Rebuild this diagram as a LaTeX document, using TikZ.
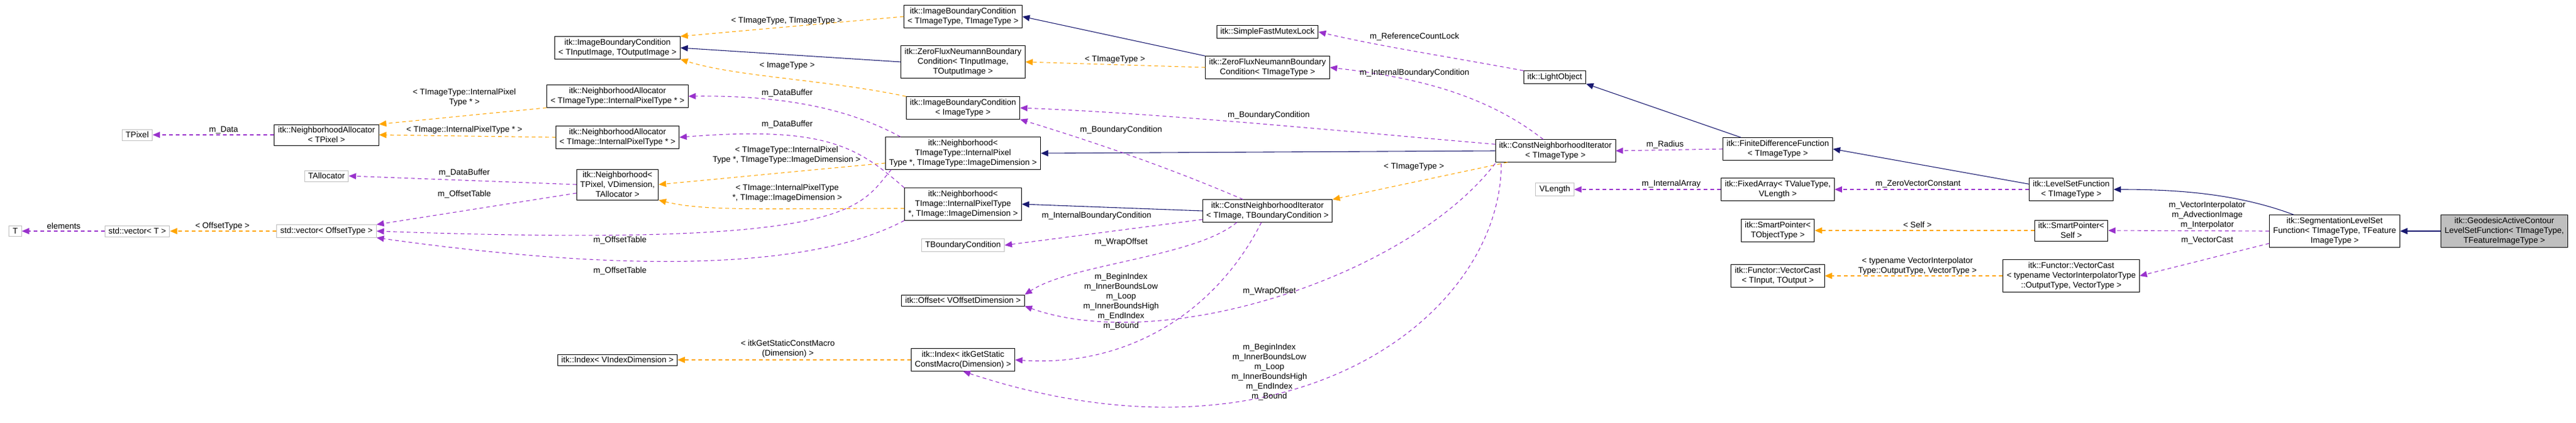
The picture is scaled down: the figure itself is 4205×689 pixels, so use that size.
\documentclass[tikz,border=0pt]{standalone}
\usepackage{fontspec}
\setmainfont{Liberation Sans}
\usetikzlibrary{arrows.meta}
\definecolor{inhblue}{RGB}{25,25,112}
\definecolor{usepurple}{RGB}{153,50,204}
\definecolor{tplorange}{RGB}{255,165,0}
\definecolor{extgray}{RGB}{191,191,191}
\tikzset{
  cls/.style={draw=black, line width=0.9pt, fill=white, align=center, inner xsep=6pt, inner ysep=4pt, font=\fontsize{13.5}{16}\selectfont},
  ext/.style={cls, draw=extgray},
  lbl/.style={align=center, inner sep=0pt, font=\fontsize{13.5}{16}\selectfont},
  inh/.style={draw=inhblue, line width=1.1pt, -{Triangle[length=12pt,width=10pt]}},
  use/.style={draw=usepurple, line width=1.1pt, dash pattern=on 6pt off 5pt, -{Triangle[length=12pt,width=10pt,fill=usepurple]}},
  tpl/.style={draw=tplorange, line width=1.1pt, dash pattern=on 6pt off 5pt, -{Triangle[length=12pt,width=10pt,fill=tplorange]}}
}
\begin{document}
\begin{tikzpicture}[x=1pt,y=-1pt]
\useasboundingbox (0,0) rectangle (4205,689);

% classes
\node[ext] (tT) at (25,377) {T};
\node[ext] (vecT) at (224,377) {std::vector< T >};
\node[ext] (vecOff) at (533,377) {std::vector< OffsetType >};
\node[ext] (tPixel) at (224,220) {TPixel};
\node[cls] (naPix) at (533,220) {itk::NeighborhoodAllocator\\< TPixel >};
\node[ext] (tAlloc) at (533,287) {TAllocator};
\node[cls] (ibcIO) at (1008,78) {itk::ImageBoundaryCondition\\< TInputImage, TOutputImage >};
\node[cls] (naTT) at (1008,157) {itk::NeighborhoodAllocator\\< TImageType::InternalPixelType * >};
\node[cls] (naTI) at (1008,224) {itk::NeighborhoodAllocator\\< TImage::InternalPixelType * >};
\node[cls] (nbPix) at (1008,301) {itk::Neighborhood<\\TPixel, VDimension,\\TAllocator >};
\node[cls] (idxV) at (1008,587) {itk::Index< VIndexDimension >};
\node[cls] (ibcTT) at (1572,27) {itk::ImageBoundaryCondition\\< TImageType, TImageType >};
\node[cls] (zfIO) at (1572,101) {itk::ZeroFluxNeumannBoundary\\Condition< TInputImage,\\TOutputImage >};
\node[cls] (ibcI) at (1572,176) {itk::ImageBoundaryCondition\\< ImageType >};
\node[cls] (nbTT) at (1572,250) {itk::Neighborhood<\\TImageType::InternalPixel\\Type *, TImageType::ImageDimension >};
\node[cls] (nbTI) at (1572,333) {itk::Neighborhood<\\TImage::InternalPixelType\\*, TImage::ImageDimension >};
\node[ext] (tBC) at (1572,400) {TBoundaryCondition};
\node[cls] (offV) at (1572,490) {itk::Offset< VOffsetDimension >};
\node[cls] (idxS) at (1572,587) {itk::Index< itkGetStatic\\ConstMacro(Dimension) >};
\node[cls] (mutex) at (2069,52) {itk::SimpleFastMutexLock};
\node[cls] (zfT) at (2069,110) {itk::ZeroFluxNeumannBoundary\\Condition< TImageType >};
\node[cls] (cniTB) at (2069,344) {itk::ConstNeighborhoodIterator\\< TImage, TBoundaryCondition >};
\node[cls] (light) at (2538,126) {itk::LightObject};
\node[cls] (cniT) at (2539,246) {itk::ConstNeighborhoodIterator\\< TImageType >};
\node[ext] (vLen) at (2538,309) {VLength};
\node[cls] (fdf) at (2902,243) {itk::FiniteDifferenceFunction\\< TImageType >};
\node[cls] (fixArr) at (2902,309) {itk::FixedArray< TValueType,\\VLength >};
\node[cls] (spObj) at (2902,376) {itk::SmartPointer<\\TObjectType >};
\node[cls] (vcIO) at (2902,450) {itk::Functor::VectorCast\\< TInput, TOutput >};
\node[cls] (lsf) at (3381,309) {itk::LevelSetFunction\\< TImageType >};
\node[cls] (spSelf) at (3381,376) {itk::SmartPointer<\\Self >};
\node[cls] (vcTN) at (3381,450) {itk::Functor::VectorCast\\< typename VectorInterpolatorType\\::OutputType, VectorType >};
\node[cls] (segF) at (3811,377) {itk::SegmentationLevelSet\\Function< TImageType, TFeature\\ImageType >};
\node[cls, fill=extgray] (gac) at (4088,377) {itk::GeodesicActiveContour\\LevelSetFunction< TImageType,\\TFeatureImageType >};

% inheritance
\draw[inh] (gac) -- (segF);
\draw[inh] (segF.north west) ++(40,0) .. controls (3650,315) and (3550,309) .. (lsf.east);
\draw[inh] (lsf.north west) ++(0,10) -- (fdf.east);
\draw[inh] (fdf.north west) ++(30,0) -- (light.south east);
\draw[inh] (cniT.west) -- (nbTT.east);
\draw[inh] (cniTB.west) -- (nbTI.east);
\draw[inh] (zfT.north west) -- (ibcTT.east);
\draw[inh] (zfIO.west) -- (ibcIO.east);

% templates
\draw[tpl] (spSelf) -- (spObj);
\draw[tpl] (vcTN) -- (vcIO);
\draw[tpl] (cniT.south west) ++(20,0) -- (cniTB.north east);
\draw[tpl] (zfT.west) -- (zfIO.east);
\draw[tpl] (ibcTT.west) -- (ibcIO.north east);
\draw[tpl] (ibcI.north west) .. controls (1350,130) and (1200,125) .. (ibcIO.south east);
\draw[tpl] (nbTT.west) ++(0,16) -- (nbPix.east);
\draw[tpl] (nbTI.west) ++(0,7) .. controls (1250,340) and (1150,345) .. (nbPix.south east);
\draw[tpl] (naTT.south west) -- (naPix.north east);
\draw[tpl] (naTI.west) -- (naPix.east);
\draw[tpl] (vecOff) -- (vecT);
\draw[tpl] (idxS) -- (idxV);

% members
\draw[use] (light.north west) .. controls (2350,90) and (2250,75) .. (mutex.east);
\draw[use] (cniT.north) ++(-20,0) .. controls (2420,150) and (2300,125) .. (zfT.east);
\draw[use] (cniT.north west) ++(0,8) .. controls (2200,215) and (1900,185) .. (ibcI.east);
\draw[use] (fdf.west) -- (cniT.east);
\draw[use] (fixArr.west) -- (vLen.east);
\draw[use] (lsf.west) -- (fixArr.east);
\draw[use] (segF.west) -- (spSelf.east);
\draw[use] (segF.west) ++(0,20) -- (vcTN.east);
\draw[use] (cniTB.north) ++(-40,0) .. controls (1900,270) and (1780,230) .. (ibcI.south east);
\draw[use] (cniTB.west) ++(0,14) -- (tBC.east);
\draw[use] (cniTB.south) ++(-50,0) .. controls (1950,420) and (1750,430) .. (offV.north east);
\draw[use] (cniTB.south) ++(-10,0) .. controls (1990,500) and (1850,600) .. (idxS.east);
\draw[use] (cniT.south west) ++(0,2) .. controls (2300,450) and (1900,580) .. (offV.south east);
\draw[use] (cniT.south west) ++(10,2) .. controls (2450,520) and (2100,780) .. (idxS.south);
\draw[use] (nbTT.north west) ++(25,0) .. controls (1400,185) and (1300,155) .. (naTT.east);
\draw[use] (nbTI.north west) .. controls (1400,240) and (1350,205) .. (naTI.east);
\draw[use] (nbTT.south west) ++(10,0) .. controls (1400,340) and (1400,405) .. (vecOff.east);
\draw[use] (nbTI.south west) .. controls (1400,400) and (1200,470) .. (vecOff.south east);
\draw[use] (nbPix.west) -- (tAlloc.east);
\draw[use] (nbPix.west) ++(0,14) -- (vecOff.north east);
\draw[use] (naPix) -- (tPixel);
\draw[use] (vecT) -- (tT);

% labels
\node[lbl] (lElem) at (104,369) {elements};
\node[lbl] (lOffT) at (363,369) {< OffsetType >};
\node[lbl] (lData) at (365,212) {m\_Data};
\node[lbl] (lNaTT) at (758,159) {< TImageType::InternalPixel\\Type * >};
\node[lbl] (lNaTI) at (758,212) {< TImage::InternalPixelType * >};
\node[lbl] (lBuf) at (758,282) {m\_DataBuffer};
\node[lbl] (lTab) at (758,317) {m\_OffsetTable};
\node[lbl] (lIbcTT) at (1284,34) {< TImageType, TImageType >};
\node[lbl] (lIbcI) at (1285,107) {< ImageType >};
\node[lbl] (lBufTT) at (1285,152) {m\_DataBuffer};
\node[lbl] (lBufTI) at (1285,203) {m\_DataBuffer};
\node[lbl] (lNbTT) at (1284,253) {< TImageType::InternalPixel\\Type *, TImageType::ImageDimension >};
\node[lbl] (lNbTI) at (1285,315) {< TImage::InternalPixelType\\*, TImage::ImageDimension >};
\node[lbl] (lTabTT) at (1012,392) {m\_OffsetTable};
\node[lbl] (lTabTI) at (1012,442) {m\_OffsetTable};
\node[lbl] (lIdx) at (1286,569) {< itkGetStaticConstMacro\\(Dimension) >};
\node[lbl] (lZfT) at (1820,97) {< TImageType >};
\node[lbl] (lBcL) at (1830,212) {m\_BoundaryCondition};
\node[lbl] (lIbcL) at (1790,352) {m\_InternalBoundaryCondition};
\node[lbl] (lWrapL) at (1830,395) {m\_WrapOffset};
\node[lbl] (lIdxL) at (1830,492) {m\_BeginIndex\\m\_InnerBoundsLow\\m\_Loop\\m\_InnerBoundsHigh\\m\_EndIndex\\m\_Bound};
\node[lbl] (lLock) at (2309,60) {m\_ReferenceCountLock};
\node[lbl] (lIbcR) at (2309,119) {m\_InternalBoundaryCondition};
\node[lbl] (lBcR) at (2071,188) {m\_BoundaryCondition};
\node[lbl] (lCniT) at (2308,272) {< TImageType >};
\node[lbl] (lWrapR) at (2072,475) {m\_WrapOffset};
\node[lbl] (lIdxR) at (2072,607) {m\_BeginIndex\\m\_InnerBoundsLow\\m\_Loop\\m\_InnerBoundsHigh\\m\_EndIndex\\m\_Bound};
\node[lbl] (lRad) at (2718,236) {m\_Radius};
\node[lbl] (lArr) at (2728,300) {m\_InternalArray};
\node[lbl] (lZero) at (3131,300) {m\_ZeroVectorConstant};
\node[lbl] (lSelf) at (3130,367) {< Self >};
\node[lbl] (lVcTN) at (3130,434) {< typename VectorInterpolator\\Type::OutputType, VectorType >};
\node[lbl] (lInterp) at (3603,351) {m\_VectorInterpolator\\m\_AdvectionImage\\m\_Interpolator};
\node[lbl] (lCast) at (3603,392) {m\_VectorCast};
\end{tikzpicture}
\end{document}
